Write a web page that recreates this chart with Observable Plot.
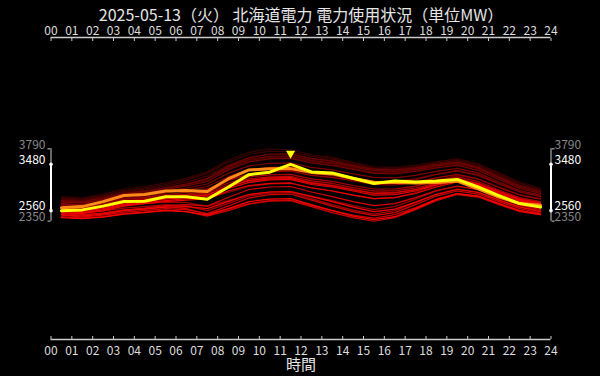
<!DOCTYPE html>
<html><head><meta charset="utf-8">
<script src="https://cdn.jsdelivr.net/npm/d3@7"></script>
<script src="https://cdn.jsdelivr.net/npm/@observablehq/plot@0.6"></script>
<style>
html,body{margin:0;padding:0;background:#000;}
#chart{width:600px;height:376px;overflow:hidden;}
</style></head><body><div id="chart"></div>
<script>
const titleText = "2025-05-13（火） 北海道電力 電力使用状況（単位MW）";
const xLabelText = "時間";
const hourTicks = [0,1,2,3,4,5,6,7,8,9,10,11,12,13,14,15,16,17,18,19,20,21,22,23,24];
const slotHours = [0.5,1.5,2.5,3.5,4.5,5.5,6.5,7.5,8.5,9.5,10.5,11.5,12.5,13.5,14.5,15.5,16.5,17.5,18.5,19.5,20.5,21.5,22.5,23.5];

// today (yellow) and yesterday (orange), MW
const today     = [2560,2575,2650,2742,2745,2835,2835,2785,3025,3275,3325,3480,3330,3310,3205,3100,3150,3130,3150,3180,3030,2860,2700,2630];
const yesterday = [2620,2640,2740,2860,2880,2950,2960,2940,3190,3370,3390,3395,3320,3290,3200,3125,3120,3110,3120,3145,2995,2830,2700,2665];

// past days (red, oldest first)
const apr15 = [2840,2810,2890,2990,3040,3110,3200,3330,3560,3720,3790,3770,3670,3620,3520,3430,3420,3460,3530,3590,3490,3310,3130,3000];
const apr16 = [2810,2790,2860,2960,3010,3080,3170,3300,3520,3680,3740,3730,3640,3590,3490,3400,3390,3430,3500,3560,3460,3280,3100,2980];
const apr17 = [2790,2770,2840,2940,2990,3050,3130,3250,3460,3620,3680,3680,3590,3540,3440,3360,3350,3400,3470,3520,3430,3250,3070,2960];
const apr18 = [2770,2750,2820,2920,2960,3020,3090,3190,3400,3560,3620,3630,3540,3490,3400,3320,3310,3360,3440,3490,3400,3220,3040,2940];
const apr19 = [2760,2720,2780,2870,2900,2950,2980,3000,3150,3280,3340,3360,3300,3250,3180,3120,3110,3170,3280,3360,3280,3110,2950,2860];
const apr20 = [2700,2660,2710,2790,2820,2860,2880,2880,3000,3120,3180,3200,3130,3070,3000,2950,2960,3040,3170,3260,3190,3030,2880,2800];
const apr21 = [2740,2720,2790,2890,2940,3000,3070,3180,3420,3580,3640,3650,3560,3510,3430,3350,3340,3380,3450,3500,3400,3210,3020,2920];
const apr22 = [2760,2740,2810,2900,2950,3010,3090,3200,3440,3610,3680,3690,3600,3550,3460,3380,3370,3410,3480,3530,3420,3230,3050,2940];
const apr23 = [2730,2710,2780,2870,2920,2980,3050,3140,3370,3530,3590,3600,3510,3460,3380,3300,3290,3340,3410,3460,3360,3180,3000,2900];
const apr24 = [2700,2680,2750,2840,2890,2950,3010,3090,3300,3450,3500,3510,3420,3370,3290,3220,3210,3260,3340,3400,3310,3130,2960,2870];
const apr25 = [2680,2660,2720,2810,2860,2910,2970,3040,3230,3370,3420,3430,3340,3290,3210,3140,3140,3190,3280,3350,3260,3090,2930,2840];
const apr26 = [2660,2620,2670,2750,2780,2820,2830,2800,2920,3040,3090,3100,3020,2950,2870,2800,2820,2920,3060,3150,3080,2930,2790,2710];
const apr27 = [2600,2560,2600,2670,2700,2730,2720,2650,2760,2880,2930,2940,2850,2760,2660,2580,2640,2790,2950,3040,2980,2830,2690,2610];
const apr28 = [2640,2620,2690,2780,2830,2880,2920,2980,3160,3290,3330,3350,3260,3220,3150,3080,3070,3120,3210,3280,3190,3020,2870,2790];
const apr29 = [2560,2520,2550,2610,2640,2680,2650,2560,2700,2850,2910,2920,2800,2680,2570,2490,2560,2720,2890,2990,2930,2780,2640,2560];
const apr30 = [2620,2600,2660,2750,2800,2850,2890,2940,3110,3230,3270,3280,3190,3140,3060,2990,2990,3050,3150,3230,3140,2970,2820,2740];
const may01 = [2600,2580,2640,2730,2780,2830,2870,2910,3070,3190,3230,3240,3150,3100,3020,2950,2950,3010,3110,3200,3110,2950,2800,2720];
const may02 = [2580,2560,2620,2710,2760,2810,2840,2880,3040,3150,3190,3200,3100,3050,2970,2900,2910,2970,3080,3170,3090,2930,2780,2700];
const may03 = [2520,2480,2510,2570,2600,2640,2600,2490,2590,2700,2760,2770,2660,2560,2470,2410,2480,2620,2790,2900,2850,2700,2560,2490];
const may04 = [2440,2410,2440,2500,2530,2570,2540,2450,2560,2690,2750,2760,2640,2520,2420,2350,2420,2580,2760,2880,2830,2680,2540,2480];
const may05 = [2470,2430,2470,2530,2560,2600,2580,2500,2650,2810,2880,2890,2770,2650,2540,2460,2520,2680,2850,2950,2890,2740,2600,2510];
const may06 = [2500,2470,2510,2570,2610,2660,2680,2650,2820,2980,3030,3040,2930,2840,2740,2660,2700,2820,2960,3050,2980,2820,2670,2580];
const may07 = [2560,2540,2600,2690,2740,2790,2830,2870,3030,3160,3210,3220,3110,3060,2980,2910,2920,2980,3090,3180,3100,2940,2790,2710];
const may08 = [2540,2520,2580,2670,2720,2760,2800,2840,3000,3120,3170,3180,3080,3030,2950,2870,2880,2950,3070,3160,3080,2920,2770,2690];
const may09 = [2520,2500,2560,2650,2700,2740,2770,2800,2950,3060,3100,3110,3010,2950,2870,2800,2820,2900,3030,3130,3060,2900,2750,2670];
const may10 = [2480,2450,2490,2560,2590,2630,2640,2600,2740,2880,2930,2940,2840,2740,2630,2540,2590,2730,2880,2980,2920,2770,2630,2540];
const may11 = [2420,2400,2430,2490,2520,2560,2540,2470,2600,2740,2790,2800,2680,2560,2450,2380,2440,2600,2780,2900,2850,2700,2560,2480];

const pastSeries = [apr15,apr16,apr17,apr18,apr19,apr20,apr21,apr22,apr23,apr24,apr25,apr26,apr27,apr28,apr29,apr30,may01,may02,may03,may04,may05,may06,may07,may08,may09,may10,may11];

const xDomain = [0, 24];
const yDomain = [0, 6000];

const allValues = pastSeries.flat().concat(today, yesterday);
const rangeTicks = [d3.min(allValues), d3.max(allValues)];
const todayTicks = [d3.min(today), d3.max(today)];
const peakIndex = today.indexOf(d3.max(today));
const peak = [{hour: slotHours[peakIndex], value: today[peakIndex]}];

const pts = vals => vals.map((v, j) => ({hour: slotHours[j], value: v}));
const fmt2 = d => String(d).padStart(2, "0");
const shade = d3.interpolateRgb("#3a0000", "#ff0000");

const redLines = pastSeries.map((vals, i) =>
  Plot.line(pts(vals), {x: "hour", y: "value", stroke: shade(i / (pastSeries.length - 1)), strokeWidth: 1.2})
);

const chart = Plot.plot({
  width: 600, height: 376,
  marginTop: 37, marginBottom: 37, marginLeft: 50.5, marginRight: 49.5,
  x: {domain: xDomain},
  y: {domain: yDomain},
  style: {background: "#000", color: "#ddd", fontFamily: "'Noto Sans CJK JP', 'Noto Sans', sans-serif", fontSize: "12px"},
  marks: [
    Plot.ruleY(yDomain, {stroke: "#ccc", strokeWidth: 1.5}),
    Plot.axisX({ticks: hourTicks, anchor: "top", tickSize: -3, tickPadding: 6, tickFormat: fmt2, stroke: "#ccc", fill: "#ddd", label: null}),
    Plot.axisX({ticks: hourTicks, anchor: "bottom", tickSize: -3, tickPadding: 9.5, tickFormat: fmt2, stroke: "#ccc", fill: "#ddd", label: null}),
    // range brackets (all days)
    Plot.ruleX([xDomain[0]], {y1: rangeTicks[0], y2: rangeTicks[1], stroke: "#888", strokeWidth: 1.5}),
    Plot.ruleX([xDomain[1]], {y1: rangeTicks[0], y2: rangeTicks[1], stroke: "#888", strokeWidth: 1.5}),
    Plot.axisY({ticks: rangeTicks, anchor: "left", tickSize: 3, stroke: "#888", strokeWidth: 1.5, fill: "none", label: null}),
    Plot.axisY({ticks: rangeTicks, anchor: "right", tickSize: 3, stroke: "#888", strokeWidth: 1.5, fill: "none", label: null}),
    // today's brackets
    Plot.ruleX([xDomain[0]], {y1: todayTicks[0], y2: todayTicks[1], stroke: "#fff", strokeWidth: 2}),
    Plot.ruleX([xDomain[1]], {y1: todayTicks[0], y2: todayTicks[1], stroke: "#fff", strokeWidth: 2}),
    Plot.dot(todayTicks, {frameAnchor: "left", y: d => d, r: 1.8, fill: "#fff"}),
    Plot.dot(todayTicks, {frameAnchor: "right", y: d => d, r: 1.8, fill: "#fff"}),
    Plot.text(rangeTicks, {frameAnchor: "left", y: d => d, text: d => String(d), textAnchor: "end", dx: -5.5, dy: -4, fill: "#888"}),
    Plot.text(rangeTicks, {frameAnchor: "right", y: d => d, text: d => String(d), textAnchor: "start", dx: 3.5, dy: -4, fill: "#888"}),
    Plot.text(todayTicks, {frameAnchor: "left", y: d => d, text: d => String(d), textAnchor: "end", dx: -5.5, dy: -4, fill: "#fff"}),
    Plot.text(todayTicks, {frameAnchor: "right", y: d => d, text: d => String(d), textAnchor: "start", dx: 3.5, dy: -4, fill: "#fff"}),
    // lines
    ...redLines,
    Plot.line(pts(yesterday), {x: "hour", y: "value", stroke: "#ff8c1a", strokeWidth: 3}),
    Plot.line(pts(today), {x: "hour", y: "value", stroke: "#ffff00", strokeWidth: 3}),
    Plot.dot(peak, {x: "hour", y: "value", symbol: "triangle", rotate: 180, r: 3.4, fill: "#ffff00", dy: -11}),
    // title and x label
    Plot.text([titleText], {frameAnchor: "top", text: d => d, dy: -28, fontSize: 16, fill: "#e6e6e6"}),
    Plot.text([xLabelText], {frameAnchor: "bottom", text: d => d, dy: 30, fontSize: 15, fill: "#e6e6e6"})
  ]
});
document.getElementById("chart").appendChild(chart);
</script>
</body></html>
